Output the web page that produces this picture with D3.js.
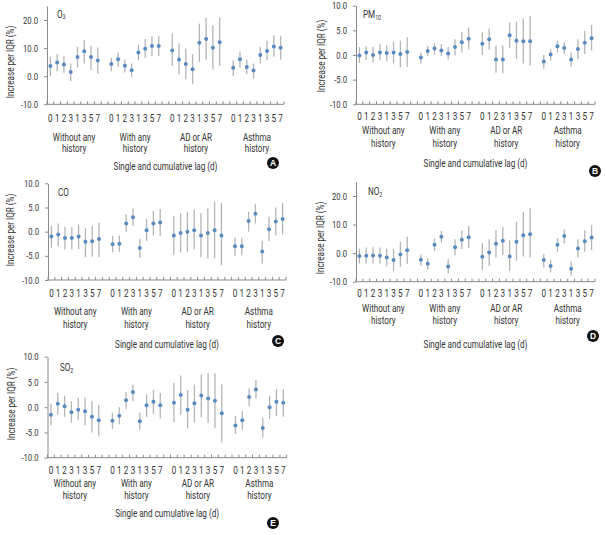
<!DOCTYPE html>
<html>
<head>
<meta charset="utf-8">
<script src="https://cdn.jsdelivr.net/npm/d3@7"></script>
<style>
  html, body { margin: 0; padding: 0; background: #fff; }
  svg text { font-family: Roboto, "Liberation Sans", sans-serif; fill: #333; }
</style>
</head>
<body>
<svg id="chart" width="606" height="535"></svg>
<script>
// ---------- data ----------
const lagLabels = ["0", "1", "2", "3", "1", "3", "5", "7"];
const groupLabels = [["Without any", "history"], ["With any", "history"], ["AD or AR", "history"], ["Asthma", "history"]];
const yTicksSmall = [-10, -5, 0, 5, 10];
const yTicksLarge = [-10, 0, 10, 20];
const xTitle = "Single and cumulative lag (d)";
const yTitle = "Increase per IQR (%)";

// [estimate, lower CI, upper CI]
const o3 = [
  [3.6, 0.0, 6.9], [4.9, 1.8, 7.8], [4.2, 1.2, 7.1], [1.5, -1.7, 4.5], [6.8, 3.1, 10.4], [8.9, 4.5, 13.0], [6.8, 2.1, 10.8], [5.6, 0.9, 10.2],
  [4.3, 1.8, 6.5], [6.0, 3.3, 8.4], [3.7, 1.3, 5.9], [2.1, -0.2, 4.5], [8.4, 5.7, 11.3], [9.8, 6.6, 13.2], [10.7, 7.2, 14.2], [10.7, 7.1, 14.2],
  [9.1, 3.6, 15.2], [5.9, 0.6, 11.6], [4.3, -1.1, 9.8], [2.5, -2.8, 7.8], [11.9, 5.1, 18.7], [13.2, 5.7, 20.9], [10.1, 2.4, 18.1], [12.1, 3.7, 20.9],
  [3.0, 0.1, 5.7], [6.0, 3.0, 8.7], [3.3, 0.7, 5.9], [2.0, -0.8, 4.5], [7.5, 4.5, 10.4], [9.0, 5.7, 12.6], [10.6, 6.9, 14.6], [10.1, 5.9, 14.2]
];
const pm10 = [
  [-0.1, -1.6, 1.6], [0.5, -1.0, 1.7], [0.0, -1.5, 1.6], [0.5, -1.0, 2.2], [0.4, -1.2, 2.0], [0.5, -1.7, 2.7], [0.2, -2.5, 2.9], [0.6, -2.4, 3.6],
  [-0.5, -1.7, 0.5], [0.8, -0.2, 1.9], [1.3, 0.1, 2.4], [0.9, -0.2, 2.2], [0.3, -0.9, 1.6], [1.6, -0.1, 3.2], [2.6, 0.5, 4.6], [3.3, 1.1, 5.6],
  [2.3, 0.0, 4.6], [3.2, 1.1, 5.4], [-0.9, -3.6, 1.9], [-0.9, -3.7, 2.0], [4.0, 1.4, 6.6], [2.9, -0.8, 6.8], [2.8, -1.7, 7.4], [2.8, -2.2, 7.9],
  [-1.3, -2.8, 0.0], [0.1, -1.1, 1.2], [1.8, 0.5, 2.9], [1.4, 0.2, 2.6], [-0.9, -2.4, 0.5], [1.2, -0.8, 3.2], [2.5, 0.2, 4.9], [3.4, 0.9, 6.1]
];
const co = [
  [-1.0, -3.3, 1.2], [-0.6, -3.0, 1.7], [-1.3, -3.7, 1.0], [-1.3, -3.7, 0.9], [-1.0, -3.6, 1.5], [-2.1, -5.3, 0.7], [-2.0, -5.2, 1.2], [-1.5, -5.3, 1.9],
  [-2.6, -4.3, -0.9], [-2.5, -4.2, -0.8], [1.7, 0.0, 3.6], [3.0, 1.2, 4.8], [-3.4, -5.4, -1.5], [0.3, -1.9, 2.6], [1.7, -0.8, 4.3], [1.9, -0.9, 4.7],
  [-0.8, -4.8, 3.3], [-0.3, -4.3, 3.8], [0.0, -4.2, 4.1], [0.3, -3.7, 4.6], [-0.8, -5.3, 3.8], [-0.3, -5.5, 4.8], [0.3, -5.5, 6.2], [-0.8, -7.0, 5.9],
  [-3.0, -5.0, -1.2], [-3.0, -4.8, -1.2], [2.2, 0.0, 4.1], [3.7, 1.7, 5.7], [-4.1, -6.6, -1.9], [0.5, -2.0, 3.1], [2.1, -0.8, 5.0], [2.6, -0.6, 5.9]
];
const no2 = [
  [-1.0, -3.6, 1.6], [-0.9, -3.6, 2.0], [-0.8, -3.6, 2.1], [-0.9, -3.6, 2.0], [-1.5, -4.7, 1.6], [-2.4, -6.2, 1.4], [-0.5, -4.8, 4.0], [1.0, -3.8, 5.7],
  [-2.3, -4.4, -0.5], [-3.7, -5.8, -1.9], [2.9, 0.8, 5.1], [5.7, 3.7, 7.8], [-4.7, -7.0, -2.1], [2.1, -0.7, 4.9], [4.7, 1.4, 8.0], [5.6, 1.7, 9.5],
  [-1.3, -5.8, 3.5], [0.2, -4.4, 4.9], [3.3, -1.5, 8.0], [4.3, -0.6, 9.2], [-1.2, -6.2, 4.5], [4.0, -2.7, 11.0], [6.3, -1.2, 14.4], [6.6, -1.5, 15.7],
  [-2.4, -5.0, -0.3], [-4.5, -6.7, -2.3], [2.9, 0.5, 5.2], [6.0, 3.5, 8.4], [-5.5, -7.9, -2.9], [1.6, -1.5, 4.9], [4.2, 0.5, 8.0], [5.5, 1.0, 9.8]
];
const so2 = [
  [-1.5, -3.6, 0.7], [0.7, -1.5, 2.8], [0.2, -1.9, 2.3], [-1.0, -3.1, 1.2], [-0.5, -2.6, 1.9], [-0.8, -3.6, 1.9], [-1.9, -5.0, 1.2], [-2.6, -5.8, 0.5],
  [-2.7, -4.3, -1.1], [-1.7, -3.4, 0.0], [1.4, -0.3, 3.0], [3.0, 1.2, 4.5], [-2.8, -4.4, -1.1], [0.4, -1.9, 2.5], [1.1, -1.3, 3.4], [0.4, -2.3, 2.8],
  [0.9, -3.0, 4.8], [2.4, -1.5, 6.3], [-0.5, -4.2, 3.4], [0.8, -3.0, 4.5], [2.3, -2.0, 6.5], [1.7, -3.1, 6.7], [1.3, -4.1, 6.7], [-1.2, -7.0, 4.5],
  [-3.6, -5.3, -1.7], [-2.6, -4.4, -0.8], [2.0, 0.2, 3.7], [3.5, 1.7, 5.4], [-4.1, -6.0, -2.1], [0.0, -2.3, 2.3], [1.1, -1.8, 3.6], [0.9, -1.9, 3.6]
];

// ---------- layout ----------
const panels = [
  { badge: "A", data: o3,   main: "O",  sub: "3",  yDomain: [-10, 25], yTicks: yTicksLarge, x0: 47,  x1: 284, yB: 104.3, yT: 5.9,
    labX: 57, labY: 17.5, yTitleX: 10, yTitleY: 62, dLag: 14, dG1: 33, dG2: 44.5, dT: 62, bx: 273, by: 163 },
  { badge: "B", data: pm10, main: "PM", sub: "10", yDomain: [-10, 10], yTicks: yTicksSmall, x0: 356, x1: 595, yB: 104.3, yT: 5.7,
    labX: 363, labY: 18.3, yTitleX: 321.7, yTitleY: 56, dLag: 12, dG1: 26, dG2: 39, dT: 59, bx: 595, by: 171 },
  { badge: "C", data: co,   main: "CO", sub: "",   yDomain: [-10, 10], yTicks: yTicksSmall, x0: 48,  x1: 286, yB: 280, yT: 183.3,
    labX: 58, labY: 196, yTitleX: 10, yTitleY: 230, dLag: 13.3, dG1: 31.7, dG2: 44, dT: 64, bx: 278, by: 341 },
  { badge: "D", data: no2,  main: "NO", sub: "2",  yDomain: [-10, 25], yTicks: yTicksLarge, x0: 356, x1: 595, yB: 281.7, yT: 181.7,
    labX: 368, labY: 195, yTitleX: 320.7, yTitleY: 238, dLag: 11.6, dG1: 26.6, dG2: 39, dT: 63, bx: 593, by: 336 },
  { badge: "E", data: so2,  main: "SO", sub: "2",  yDomain: [-10, 10], yTicks: yTicksSmall, x0: 47.5, x1: 286.7, yB: 457.7, yT: 356.7,
    labX: 60, labY: 371, yTitleX: 11.7, yTitleY: 404, dLag: 12.3, dG1: 25.6, dG2: 37.3, dT: 55.6, bx: 273, by: 523 }
];

const axisColor = "#8a8a8a";
const barColor = "#b5b5b5";
const pointColor = "#5a8ac2";
const fontSize = 10;
const tickFont = 9.5;
const sx = 0.81; // horizontal condensing of the text

// slots: 8 lags per group, one empty slot between groups
const slots = [];
groupLabels.forEach((g, gi) => {
  lagLabels.forEach((l, li) => slots.push(`${gi}-${li}`));
  if (gi < groupLabels.length - 1) slots.push(`gap${gi}`);
});

const svg = d3.select("#chart");

function addText(parent, x, y, str, size, anchor, rot) {
  return parent.append("text")
    .attr("transform", `translate(${x},${y})${rot ? ` rotate(${rot})` : ""} scale(${sx},1)`)
    .attr("text-anchor", anchor || "middle")
    .attr("font-size", size)
    .text(str);
}

panels.forEach(p => {
  const g = svg.append("g");
  const x = d3.scaleBand().domain(slots).range([p.x0, p.x1]).padding(0);
  const y = d3.scaleLinear().domain(p.yDomain).range([p.yB, p.yT]);
  const yBase = y(p.yDomain[0]);
  const cx = i => x(`${Math.floor(i / 8)}-${i % 8}`) + x.bandwidth() / 2;

  // y axis
  const ya = g.append("g")
    .attr("transform", `translate(${p.x0},0)`)
    .attr("font-family", null)
    .call(d3.axisLeft(y).tickValues(p.yTicks).tickFormat(d => d.toFixed(1))
      .tickSize(3).tickSizeOuter(0).tickPadding(6));
  ya.attr("font-family", null);
  ya.select(".domain").attr("stroke", axisColor);
  ya.selectAll(".tick line").attr("stroke", axisColor);
  ya.selectAll(".tick text").attr("font-size", tickFont).attr("fill", "#333")
    .attr("transform", `scale(${sx},1)`).attr("x", -9 / sx);

  // x axis line + boundary ticks
  g.append("line").attr("x1", p.x0).attr("x2", p.x1).attr("y1", yBase).attr("y2", yBase)
    .attr("stroke", axisColor).attr("stroke-width", 1);
  const bounds = slots.map(s => x(s)).concat([x(slots[slots.length - 1]) + x.bandwidth()]);
  g.selectAll(".xt").data(bounds).join("line")
    .attr("x1", d => d).attr("x2", d => d).attr("y1", yBase).attr("y2", yBase - 3)
    .attr("stroke", axisColor).attr("stroke-width", 1);

  // lag labels
  const lagData = [];
  groupLabels.forEach((gl, gi) => lagLabels.forEach((l, li) => lagData.push({ key: `${gi}-${li}`, l })));
  g.selectAll(".lag").data(lagData).join("text")
    .attr("transform", d => `translate(${x(d.key) + x.bandwidth() / 2},${yBase + p.dLag + 3.5}) scale(${sx},1)`)
    .attr("text-anchor", "middle").attr("font-size", fontSize)
    .text(d => d.l);

  // group labels
  groupLabels.forEach((gl, gi) => {
    const gx = (x(`${gi}-0`) + x(`${gi}-7`) + x.bandwidth()) / 2;
    addText(g, gx, yBase + p.dG1 + 3.5, gl[0], fontSize);
    addText(g, gx, yBase + p.dG2 + 3.5, gl[1], fontSize);
  });

  // x title
  addText(g, (p.x0 + p.x1) / 2, yBase + p.dT + 3.5, xTitle, fontSize);

  // y title
  addText(g, p.yTitleX + 3.5, p.yTitleY, yTitle, fontSize, "middle", -90);

  // pollutant label
  const lab = addText(g, p.labX, p.labY, "", fontSize, "start");
  lab.append("tspan").text(p.main);
  if (p.sub) lab.append("tspan").attr("font-size", 6.5).attr("dy", 1.5).text(p.sub);

  // error bars
  g.selectAll(".eb").data(p.data).join("line")
    .attr("x1", (d, i) => cx(i)).attr("x2", (d, i) => cx(i))
    .attr("y1", d => y(d[1])).attr("y2", d => y(d[2]))
    .attr("stroke", barColor).attr("stroke-width", 1.3);

  // points
  g.selectAll(".pt").data(p.data).join("circle")
    .attr("cx", (d, i) => cx(i)).attr("cy", d => y(d[0])).attr("r", 2)
    .attr("fill", pointColor);

  // badge
  g.append("circle").attr("cx", p.bx).attr("cy", p.by).attr("r", 6).attr("fill", "#111");
  g.append("text").attr("x", p.bx).attr("y", p.by).attr("text-anchor", "middle")
    .attr("dominant-baseline", "central").attr("font-size", 8.5).attr("font-weight", "bold")
    .style("fill", "#fff").style("font-family", "'Liberation Sans', Arial, sans-serif").text(p.badge);
});
</script>
</body>
</html>
